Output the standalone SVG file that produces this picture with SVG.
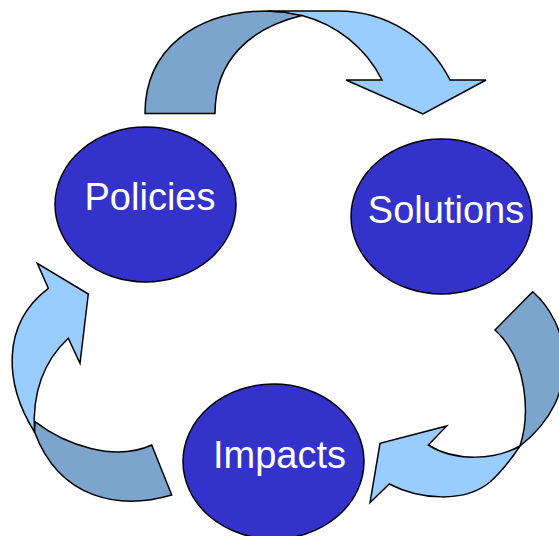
<svg xmlns="http://www.w3.org/2000/svg" width="559" height="536" viewBox="0 0 559 536">
<style>
.back{fill:#7BA5CC;stroke:#000;stroke-width:1.5;stroke-linejoin:miter}
.front{fill:#99CCFF;stroke:#000;stroke-width:1.5;stroke-linejoin:miter}
.node{fill:#3333CC;stroke:#000;stroke-width:1.5}
.lbl{fill:#fff;font-family:"Liberation Sans",Arial,sans-serif;font-size:38px;text-anchor:middle}
</style>
<rect width="559" height="536" fill="#fff"/>
<g id="connectors">
  <g id="arrow-policies-solutions">
    <path class="back" d="M145,113.5 C145,50 195,11 268,11 Q285,11.5 302,15.5 C250,28 215,60 215,113.5 Z"/>
    <path class="front" d="M268,11 L338,11 A125,124 0 0 1 450,80 L486,80 L423,114 L346,80 L382,80 A125,124 0 0 0 302,15.5 Q285,11.5 268,11 Z"/>
  </g>
  <g id="arrow-solutions-impacts">
    <path class="back" d="M495,330 L532.7,291.7 C568,322 586,394 520,446 C530,415 528,360 495,330 Z"/>
    <path class="front" d="M520,446 C495,460 455,462 428.3,445 L446.7,426 L380,443.3 L370,502.7 L389.3,484 C420,500 465,503 490,482 C500,473 512,458 520,446 Z"/>
  </g>
  <g id="arrow-impacts-policies">
    <path class="back" d="M151.7,445 L171.7,495 C120,510 60,500 34.5,432 L35,421.7 C65,445 115,462 151.7,445 Z"/>
    <path class="front" d="M48.3,288.3 L37.3,263.3 L88.3,294 L80,363.3 L68.3,338.3 C45,360 32,390 34.5,432 C5,385 0,325 48.3,288.3 Z"/>
  </g>
</g>
<g id="node-policies">
  <ellipse class="node" cx="145.5" cy="204.5" rx="90.5" ry="77.5"/>
  <text class="lbl" x="150" y="210">Policies</text>
</g>
<g id="node-solutions">
  <ellipse class="node" cx="441.5" cy="216.5" rx="90.5" ry="77.5"/>
  <text class="lbl" x="446" y="223">Solutions</text>
</g>
<g id="node-impacts">
  <ellipse class="node" cx="273.5" cy="461.5" rx="90.5" ry="77.5"/>
  <text class="lbl" x="279.5" y="468">Impacts</text>
</g>
</svg>
